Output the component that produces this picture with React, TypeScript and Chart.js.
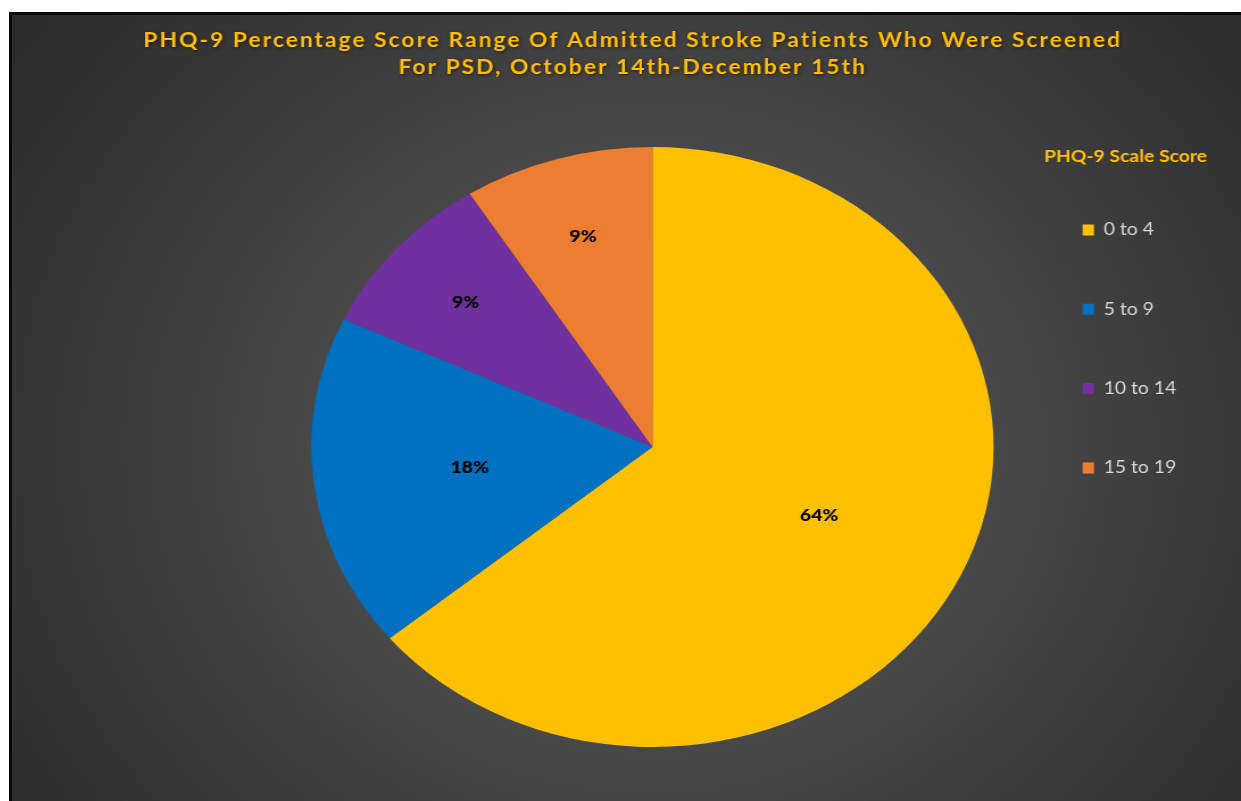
import React, { useEffect, useRef } from 'react';
import { Chart, registerables } from 'chart.js';

Chart.register(...registerables);

// ---- data ----
const categories = ['0 to 4', '5 to 9', '10 to 14', '15 to 19'];
const percentages = [64, 18, 9, 9];
const sliceColors = ['#FFC000', '#0070C0', '#7030A0', '#ED7D31'];
const titleLines = [
  'PHQ-9 Percentage Score Range Of Admitted Stroke Patients Who Were Screened',
  'For PSD, October 14th-December 15th',
];
const legendTitle = 'PHQ-9 Scale Score';

// ---- layout constants ----
const CANVAS_W = 1081;
const CANVAS_H = 786;
const STRETCH = 1229 / CANVAS_W;
const FONT = 'Lato, "Open Sans", sans-serif';

const backgroundPlugin = {
  id: 'bgGradient',
  beforeDraw(chart: any) {
    const { ctx, width, height, chartArea } = chart;
    const cx = (chartArea.left + chartArea.right) / 2;
    const cy = (chartArea.top + chartArea.bottom) / 2;
    const g = ctx.createRadialGradient(cx, cy, 0, cx, cy, 720);
    g.addColorStop(0, '#5d5d5d');
    g.addColorStop(1, '#2a2a2a');
    ctx.save();
    ctx.fillStyle = g;
    ctx.fillRect(0, 0, width, height);
    ctx.restore();
  },
};

const sliceLabelPlugin = {
  id: 'sliceLabels',
  afterDatasetsDraw(chart: any) {
    const { ctx } = chart;
    const meta = chart.getDatasetMeta(0);
    const values = chart.data.datasets[0].data as number[];
    const total = values.reduce((a, b) => a + b, 0);
    ctx.save();
    ctx.font = `900 17px ${FONT}`;
    ctx.fillStyle = '#000000';
    ctx.textAlign = 'center';
    ctx.textBaseline = 'middle';
    meta.data.forEach((arc: any, i: number) => {
      const p = arc.getProps(['x', 'y', 'startAngle', 'endAngle', 'outerRadius'], true);
      const share = values[i] / total;
      const mid = (p.startAngle + p.endAngle) / 2;
      const r = p.outerRadius * (share > 0.15 ? 0.54 : 0.73);
      ctx.fillText(`${Math.round(share * 100)}%`, p.x + Math.cos(mid) * r, p.y + Math.sin(mid) * r);
    });
    ctx.restore();
  },
};

const titlesPlugin = {
  id: 'titles',
  afterDraw(chart: any) {
    const { ctx, legend } = chart;
    ctx.save();
    // main title
    ctx.font = `bold 20px ${FONT}`;
    (ctx as any).letterSpacing = '1.8px';
    ctx.textAlign = 'center';
    ctx.textBaseline = 'alphabetic';
    ctx.fillStyle = '#FFC000';
    ctx.shadowColor = 'rgba(40, 20, 0, 0.85)';
    ctx.shadowBlur = 3;
    ctx.shadowOffsetX = 1;
    ctx.shadowOffsetY = 1;
    ctx.fillText(titleLines[0], 546, 32);
    ctx.fillText(titleLines[1], 546, 59);
    // legend title, anchored to the legend box
    (ctx as any).letterSpacing = '0px';
    ctx.shadowColor = 'rgba(0,0,0,0)';
    ctx.font = `bold 17px ${FONT}`;
    ctx.textAlign = 'left';
    ctx.textBaseline = 'middle';
    ctx.fillStyle = '#FFC000';
    ctx.fillText(legendTitle, legend.left + 2, legend.top + 10);
    ctx.restore();
  },
};

export default function App() {
  const canvasRef = useRef<HTMLCanvasElement | null>(null);

  useEffect(() => {
    const canvas = canvasRef.current;
    if (!canvas) return;
    const chart = new Chart(canvas, {
      type: 'pie',
      data: {
        labels: categories,
        datasets: [
          {
            data: percentages,
            backgroundColor: sliceColors,
            borderWidth: 0,
          },
        ],
      },
      options: {
        responsive: false,
        animation: false,
        devicePixelRatio: 1,
        events: [],
        layout: { padding: { top: 132, bottom: 54, left: 221, right: 47 } },
        plugins: {
          tooltip: { enabled: false },
          title: { display: false },
          legend: {
            position: 'right',
            align: 'start',
            title: {
              display: true,
              text: '',
              font: { family: FONT, weight: 'bold', size: 17 },
              padding: { top: 1.5, bottom: 16.6 },
            },
            labels: {
              color: '#D9D9D9',
              font: { family: FONT, size: 17, lineHeight: 2.547 },
              boxWidth: 10,
              boxHeight: 11,
              padding: 36,
              generateLabels: (c: any) =>
                (Chart as any).overrides.doughnut.plugins.legend.labels
                  .generateLabels(c)
                  .map((item: any) => ({ ...item, text: [item.text] })),
            },
          },
        },
      } as any,
      plugins: [backgroundPlugin, sliceLabelPlugin, titlesPlugin],
    });
    return () => chart.destroy();
  }, []);

  return (
    <div style={{ position: 'fixed', left: 0, top: 0, width: 1241, height: 801, background: '#ffffff', overflow: 'hidden' }}>
      <div
        style={{
          position: 'absolute',
          left: 9,
          top: 12,
          width: 1229,
          height: 786,
          borderTop: '3px solid #0a0a0a',
          borderLeft: '3px solid #0a0a0a',
          overflow: 'hidden',
          background: '#2e2e2e',
        }}
      >
        <div style={{ width: CANVAS_W, height: CANVAS_H, transform: `scaleX(${STRETCH})`, transformOrigin: 'left top' }}>
          <canvas ref={canvasRef} width={CANVAS_W} height={CANVAS_H} />
        </div>
      </div>
    </div>
  );
}
